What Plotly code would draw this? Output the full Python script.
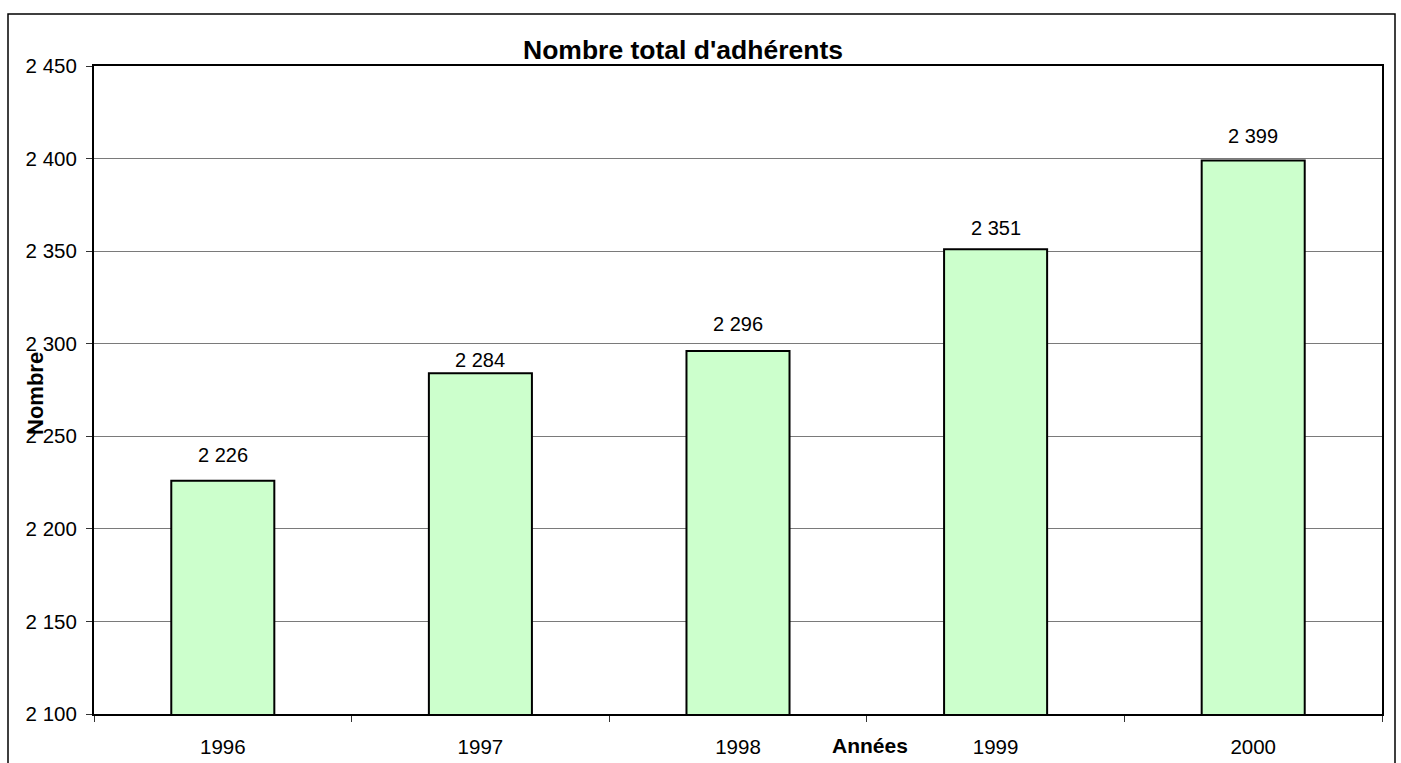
import plotly.graph_objects as go

# ---- data ----
years = ["1996", "1997", "1998", "1999", "2000"]
members = [2226, 2284, 2296, 2351, 2399]
y_ticks = [2100, 2150, 2200, 2250, 2300, 2350, 2400, 2450]

title_text = "Nombre total d'adhérents"
x_title = "Années"
y_title = "Nombre"

# ---- layout constants ----
W, H = 1401, 763
ML, MR, MT, MB = 94, 19, 66, 49
PW, PH = W - ML - MR, H - MT - MB
FONT = "Liberation Sans, Arial, sans-serif"
label_gap = [16, 3, 17, 11, 14]  # pixel gap between bar top and label


def fmt(v):
    return f"{v:,}".replace(",", " ")


fig = go.Figure()
fig.add_trace(go.Bar(
    x=years, y=members, width=0.4,
    marker=dict(color="#CCFFCC", line=dict(color="#000000", width=2)),
    hoverinfo="x+y",
))

annotations = []
for i, (v, g) in enumerate(zip(members, label_gap)):
    annotations.append(dict(
        x=i, y=v, xref="x", yref="y", text=fmt(v), showarrow=False,
        yanchor="bottom", xanchor="center", yshift=g - 3,
        font=dict(family=FONT, size=20, color="#000"),
    ))

annotations.append(dict(
    x=(870 - ML) / PW, y=0, xref="paper", yref="paper", yshift=-31,
    text=f"<b>{x_title}</b>", showarrow=False, xanchor="center", yanchor="middle",
    font=dict(family=FONT, size=21, color="#000"),
))
annotations.append(dict(
    x=(35 - ML) / PW, y=0.5, xref="paper", yref="paper", yshift=-3,
    text=f"<b>{y_title}</b>", showarrow=False, textangle=-90,
    xanchor="center", yanchor="middle",
    font=dict(family=FONT, size=22, color="#000"),
))

fig.update_layout(
    width=W, height=H,
    margin=dict(l=ML, r=MR, t=MT, b=MB, pad=0, autoexpand=False),
    paper_bgcolor="#FFFFFF", plot_bgcolor="#FFFFFF",
    separators=", ",
    showlegend=False,
    title=dict(
        text=f"<b>{title_text}</b>", xref="paper", x=(683 - ML) / PW, xanchor="center",
        yref="container", y=1 - 50 / H, yanchor="middle",
        font=dict(family=FONT, size=26.5, color="#000"),
    ),
    annotations=annotations,
    shapes=[dict(
        type="rect", xref="paper", yref="paper",
        x0=(8 - ML) / PW, x1=(1395 - ML) / PW,
        y0=-0.2, y1=1 + (MT - 14) / PH,
        line=dict(color="#000000", width=1.5), layer="below",
    )],
    xaxis=dict(
        type="category", range=[-0.5, len(years) - 0.5], tickson="boundaries",
        ticks="outside", ticklen=6, tickcolor="#333", tickwidth=1,
        showline=True, linecolor="#000", linewidth=2, mirror=True,
        showgrid=False, ticklabelstandoff=13, tickangle=0, automargin=False,
        tickfont=dict(family=FONT, size=20.5, color="#000"),
    ),
    yaxis=dict(
        range=[2100, 2450], tickvals=y_ticks, tickformat=",d",
        ticks="outside", ticklen=6, tickcolor="#333", tickwidth=1,
        showline=True, linecolor="#000", linewidth=2, mirror=True,
        showgrid=True, gridcolor="#7a7a7a", gridwidth=1, automargin=False,
        zeroline=False, ticklabelstandoff=5,
        tickfont=dict(family=FONT, size=20.5, color="#000"),
    ),
)

post = (
    "var s=document.createElement('style');"
    "s.textContent='html,body{margin:0;padding:0;overflow:hidden;height:763px;}"
    ".plotly-graph-div{display:block;}';"
    "document.head.appendChild(s);"
)

fig.write_html("out.html", post_script=post, config={"displayModeBar": False})
